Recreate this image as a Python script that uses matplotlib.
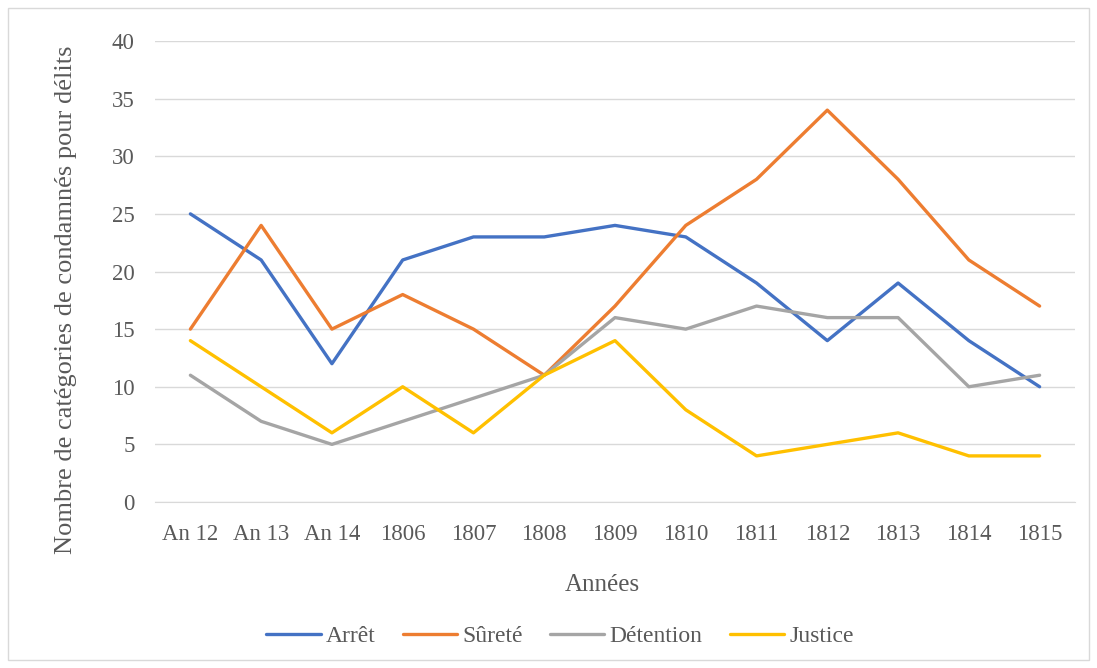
import matplotlib
matplotlib.use("Agg")
import matplotlib.pyplot as plt
from matplotlib.patches import Rectangle

categories = ["An 12", "An 13", "An 14", "1806", "1807", "1808", "1809",
              "1810", "1811", "1812", "1813", "1814", "1815"]
arret = [25, 21, 12, 21, 23, 23, 24, 23, 19, 14, 19, 14, 10]
surete = [15, 24, 15, 18, 15, 11, 17, 24, 28, 34, 28, 21, 17]
detention = [11, 7, 5, 7, 9, 11, 16, 15, 17, 16, 16, 10, 11]
justice = [14, 10, 6, 10, 6, 11, 14, 8, 4, 5, 6, 4, 4]
yticks = [0, 5, 10, 15, 20, 25, 30, 35, 40]

plt.rcParams['font.family'] = ['Liberation Serif', 'DejaVu Serif']
txt = '#595959'
W, H = 1097, 668

fig = plt.figure(figsize=(W / 100, H / 100), dpi=100)
fig.patches.append(Rectangle((8 / W, 8 / H), 1 - 16 / W, 1 - 16 / H,
                             transform=fig.transFigure, fill=False,
                             edgecolor='#d9d9d9', linewidth=1))
ax = fig.add_axes([155 / W, 1 - 502 / H, 920 / W, 461 / H])

x = list(range(len(categories)))
series = [(arret, '#4472C4', 'Arrêt'), (surete, '#ED7D31', 'Sûreté'),
          (detention, '#A5A5A5', 'Détention'), (justice, '#FFC000', 'Justice')]
for vals, col, lab in series:
    ax.plot(x, vals, color=col, linewidth=2.4, label=lab,
            solid_joinstyle='round', solid_capstyle='round')

ax.set_xlim(-0.5, len(categories) - 0.5)
ax.set_ylim(0, 40)
ax.set_yticks(yticks)
ax.set_xticks(x)
ax.set_xticklabels(categories)
ax.grid(axis='y', color='#d9d9d9', linewidth=1)
ax.set_axisbelow(True)
for s in ['top', 'right', 'left']:
    ax.spines[s].set_visible(False)
ax.spines['bottom'].set_color('#d9d9d9')
ax.tick_params(axis='both', length=0, labelsize=16.5, colors=txt)
ax.tick_params(axis='x', pad=16)
ax.tick_params(axis='y', pad=14.5)

fig.text(602 / W, 1 - 585 / H, 'Années', fontsize=18, color=txt,
         ha='center', va='center')
fig.text(66 / W, 1 - 300 / H, 'Nombre de catégories de condamnés pour délits',
         fontsize=19, color=txt, rotation=90, ha='center', va='center')

fig.legend(loc='center', bbox_to_anchor=(560 / W, 1 - 636 / H), ncol=4,
           frameon=False, fontsize=17, labelcolor=txt, handlelength=2.3,
           columnspacing=1.15, handletextpad=0.22)

fig.savefig('out.png', dpi=100)
